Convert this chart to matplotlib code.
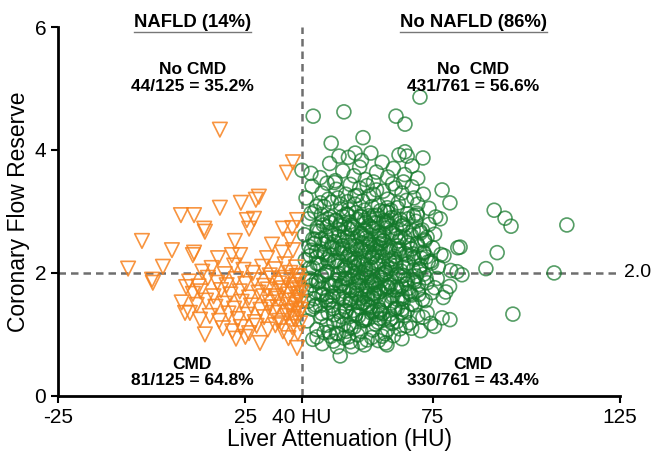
"""Coronary flow reserve vs liver attenuation scatter."""

import matplotlib

matplotlib.use("Agg")
import matplotlib.pyplot as plt
from matplotlib.lines import Line2D

plt.rcParams["font.family"] = ["Liberation Sans", "DejaVu Sans"]

# ---- NAFLD group (orange triangles) ----
nafld_sparse_x = [37.7, 36.1, 18.2, 7.8, 11.3, 14.0, -2.6, 18.2, 23.8, 27.8, 28.6, 25.4, 27.3, 26.0,
                  22.2, 5.4, 11.3, 32.1, 35.0, 37.5, 38.8, 36.9, 37.7, 17.7, 21.4, 23.6, 30.8, 34.8,
                  -6.3, 0.1, 0.3, 3.0, 11.0, 14.2, 8.9, 12.9, 14.2, 28.9, 38.8, 9.2, 10.2]
nafld_sparse_y = [3.80, 3.63, 4.33, 2.94, 2.94, 2.72, 2.52, 3.06, 3.14, 3.19, 3.24, 2.86, 2.88, 2.72,
                  2.52, 2.37, 2.33, 2.46, 2.72, 2.73, 2.86, 2.54, 2.37, 2.24, 2.29, 2.29, 2.24, 2.33,
                  2.07, 1.89, 1.84, 2.10, 2.29, 2.67, 1.35, 1.24, 1.00, 0.86, 0.78, 1.77, 1.35]
nafld_dense_x = [13.5, 16.0, 19.5, 22.0, 24.5, 27.0, 29.5, 31.5, 33.0, 35.5, 37.0, 38.5, 39.2,
                 10.0, 12.5, 15.0, 17.5, 20.0, 22.5, 25.0, 27.5, 30.0, 32.0, 34.0, 36.0, 38.0, 39.5, 35.0,
                 11.0, 13.0, 16.5, 18.5, 21.0, 23.5, 26.0, 28.5, 31.0, 33.0, 34.5, 36.5, 37.8, 39.0, 40.0,
                 8.0, 12.0, 14.5, 17.0, 19.5, 22.0, 24.0, 26.5, 29.0, 31.5, 33.5, 35.5, 37.0, 38.5, 39.7,
                 15.5, 18.0, 20.5, 23.0, 25.5, 27.5, 30.0, 32.5, 34.0, 36.0, 38.0, 39.5,
                 19.0, 21.5, 23.8, 26.0, 28.0, 31.0, 33.0, 35.0, 37.5, 39.0,
                 22.5, 25.0, 36.5, 38.7, 39.3, 38.2, 39.8, 37.3, 39.6,
                 33.8, 36.2, 38.9, 31.2, 35.7, 37.9, 29.8, 34.6]
nafld_dense_y = [2.02, 2.08, 1.98, 2.12, 2.05, 2.00, 2.10, 1.96, 2.06, 2.14, 2.00, 2.09, 1.95,
                 1.86, 1.78, 1.92, 1.84, 1.80, 1.90, 1.82, 1.88, 1.79, 1.91, 1.83, 1.88, 1.80, 1.86, 1.75,
                 1.66, 1.70, 1.62, 1.72, 1.65, 1.70, 1.60, 1.68, 1.73, 1.62, 1.70, 1.65, 1.72, 1.60, 1.68,
                 1.52, 1.48, 1.55, 1.45, 1.50, 1.42, 1.53, 1.47, 1.40, 1.52, 1.44, 1.55, 1.48, 1.42, 1.52,
                 1.30, 1.22, 1.34, 1.25, 1.32, 1.20, 1.28, 1.35, 1.22, 1.30, 1.25, 1.34,
                 1.10, 1.05, 1.12, 1.02, 1.14, 1.08, 1.15, 1.05, 1.12, 1.02,
                 0.93, 0.96, 0.94, 1.95, 1.75, 1.55, 1.40, 1.38, 1.18,
                 1.58, 1.36, 1.66, 1.44, 1.92, 1.28, 1.62, 1.18]

# ---- No NAFLD group (green circles) ----
no_nafld_x = [
    # y 3.5-4.0
    42.5, 45.0, 47.5, 49.0, 51.0, 52.5, 54.0, 55.5, 57.0, 58.5, 60.0, 61.5, 63.0, 64.5, 66.0, 67.5,
    69.5, 71.0, 50.0, 56.0,
    # y 3.0-3.5
    41.2, 42.8, 44.0, 45.5, 46.8, 48.0, 49.3, 50.5, 51.8, 53.0, 54.2, 55.5, 56.8, 58.0, 59.2, 60.5,
    61.8, 63.0, 64.3, 65.5, 66.8, 68.0, 69.5, 71.0, 72.5, 74.0, 43.5, 47.2, 52.3, 57.5, 62.2, 67.2,
    48.8, 54.8, 60.0, 65.0, 70.0, 45.0, 58.8, 63.8,
    # y 2.5-3.0
    40.8, 41.8, 43.0, 44.2, 45.3, 46.5, 47.6, 48.8, 49.9, 51.0, 52.2, 53.3, 54.5, 55.6, 56.8, 57.9,
    59.0, 60.2, 61.3, 62.5, 63.6, 64.8, 65.9, 67.0, 68.2, 69.3, 70.5, 71.6, 72.8, 74.0, 75.5, 77.0,
    42.5, 44.8, 46.9, 49.2, 51.5, 53.8, 56.1, 58.4, 60.7, 63.0, 65.3, 67.6, 69.9, 72.2, 48.0, 52.9,
    57.2, 61.9, 66.4, 50.3, 55.0, 59.6, 64.2, 54.0, 58.0, 62.0, 47.0, 43.6, 70.8, 73.5, 56.5, 60.0,
    52.0, 45.8, 67.8, 75.8, 62.8, 50.8,
    # y 2.0-2.5
    41.0, 42.0, 43.1, 44.0, 45.0, 45.9, 46.8, 47.7, 48.6, 49.5, 50.4, 51.3, 52.2, 53.1, 54.0, 54.9,
    55.8, 56.7, 57.6, 58.5, 59.4, 60.3, 61.2, 62.1, 63.0, 63.9, 64.8, 65.7, 66.6, 67.5, 68.4, 69.3,
    70.2, 71.4, 72.6, 73.8, 75.0, 76.5, 78.0, 79.8, 42.6, 44.5, 46.3, 48.1, 49.9, 51.7, 53.5, 55.3,
    57.1, 58.9, 60.7, 62.5, 64.3, 66.1, 67.9, 69.7, 71.5, 73.3, 47.2, 50.8, 54.4, 58.0, 61.6, 65.2,
    68.8, 52.6, 56.2, 59.8, 63.4, 55.0, 57.0, 60.0, 53.0, 49.0, 62.8, 66.0, 44.0, 70.8, 74.5, 77.2,
    81.5, 51.0, 56.5, 59.0, 61.0, 64.0, 46.0, 72.0, 54.0, 58.2,
    # y 1.5-2.0
    41.3, 42.3, 43.4, 44.4, 45.4, 46.3, 47.2, 48.2, 49.1, 50.0, 50.9, 51.8, 52.7, 53.6, 54.5, 55.4,
    56.3, 57.2, 58.1, 59.0, 59.9, 60.8, 61.7, 62.6, 63.5, 64.4, 65.3, 66.2, 67.1, 68.0, 69.0, 70.0,
    71.1, 72.3, 73.5, 74.8, 76.2, 77.8, 79.5, 41.8, 43.9, 45.8, 47.7, 49.6, 51.4, 53.2, 55.0, 56.8,
    58.6, 60.4, 62.2, 64.0, 65.8, 67.6, 69.4, 71.2, 73.0, 75.5, 48.5, 52.2, 55.8, 59.5, 63.2, 66.9,
    70.6, 50.5, 54.1, 57.7, 61.3, 64.9, 53.0, 56.0, 58.8, 61.0, 46.8, 44.6, 68.6, 72.6, 78.5, 42.8,
    55.2, 57.4, 60.1, 62.9, 51.6, 65.6, 48.9, 54.7, 59.3, 67.3,
    # y 1.0-1.5
    41.5, 42.8, 44.1, 45.4, 46.7, 48.0, 49.3, 50.6, 51.9, 53.2, 54.5, 55.8, 57.1, 58.4, 59.7, 61.0,
    62.3, 63.6, 64.9, 66.2, 67.5, 68.8, 70.2, 71.8, 73.5, 75.5, 77.5, 43.5, 46.0, 48.6, 51.2, 53.8,
    56.4, 59.0, 61.6, 64.2, 66.8, 69.4, 72.4, 47.3, 50.0, 52.6, 55.2, 57.8, 60.4, 63.0, 65.6, 54.0,
    58.6, 62.0, 45.0, 49.8, 56.9, 60.9, 67.9, 71.0, 52.0, 64.0, 57.5, 74.5,
    # y 0.7-1.0
    43.0, 45.5, 47.8, 49.5, 51.3, 53.0, 55.0, 56.8, 58.7, 60.5, 62.4, 64.5, 66.8, 48.5, 52.5, 57.5,
    61.5, 55.8,
    # outliers
    43.1, 51.3, 65.2, 67.6, 71.6, 47.9, 56.4, 72.4, 77.5, 79.6, 40.1, 54.3, 67.6, 68.2, 91.4, 94.3,
    95.9, 110.8, 92.2, 89.2, 107.4, 96.4, 81.7, 82.8, 50.3, 53.5, 62.8, 44.1, 82.3, 79.6,
]
no_nafld_y = [
    3.62, 3.55, 3.78, 3.50, 3.66, 3.88, 3.58, 3.72, 3.52, 3.95, 3.64, 3.80, 3.56, 3.70, 3.92, 3.60,
    3.74, 3.54, 3.90, 3.83,
    3.22, 3.41, 3.08, 3.30, 3.46, 3.15, 3.36, 3.04, 3.28, 3.44, 3.12, 3.38, 3.02, 3.25, 3.48, 3.10,
    3.33, 3.20, 3.45, 3.06, 3.30, 3.18, 3.40, 3.12, 3.28, 3.05, 3.00, 3.20, 3.16, 3.42, 3.00, 3.48,
    3.47, 3.26, 3.35, 3.38, 3.22, 3.14, 3.08, 3.02,
    2.62, 2.88, 2.55, 2.74, 2.95, 2.60, 2.82, 2.51, 2.70, 2.92, 2.58, 2.78, 2.98, 2.64, 2.86, 2.53,
    2.72, 2.94, 2.57, 2.80, 2.66, 2.90, 2.52, 2.76, 2.96, 2.61, 2.84, 2.68, 2.54, 2.79, 2.63, 2.88,
    2.97, 2.68, 2.50, 2.85, 2.66, 2.56, 2.91, 2.75, 2.60, 2.99, 2.72, 2.58, 2.93, 2.70, 2.64, 2.83,
    2.69, 2.52, 2.87, 2.77, 2.59, 2.82, 2.65, 2.74, 2.93, 2.62, 2.88, 2.55, 2.97, 2.58, 2.68, 2.81,
    2.96, 2.78, 2.73, 2.91, 2.85, 2.54,
    2.21, 2.43, 2.08, 2.35, 2.14, 2.47, 2.02, 2.29, 2.40, 2.11, 2.33, 2.05, 2.26, 2.45, 2.17, 2.38,
    2.01, 2.24, 2.42, 2.09, 2.31, 2.19, 2.48, 2.06, 2.36, 2.13, 2.27, 2.44, 2.03, 2.32, 2.16, 2.39,
    2.22, 2.07, 2.34, 2.18, 2.41, 2.10, 2.28, 2.04, 2.37, 2.15, 2.30, 2.46, 2.20, 2.08, 2.43, 2.12,
    2.35, 2.25, 2.47, 2.01, 2.23, 2.39, 2.14, 2.31, 2.05, 2.26, 2.18, 2.40, 2.09, 2.34, 2.27, 2.12,
    2.45, 2.29, 2.49, 2.16, 2.38, 2.22, 2.06, 2.42, 2.32, 2.20, 2.11, 2.36, 2.25, 2.48, 2.19, 2.30,
    2.02, 2.44, 2.13, 2.28, 2.41, 2.07, 2.33, 2.24, 2.17, 2.46,
    1.72, 1.91, 1.58, 1.84, 1.65, 1.97, 1.52, 1.79, 1.88, 1.61, 1.83, 1.55, 1.76, 1.94, 1.67, 1.86,
    1.51, 1.74, 1.92, 1.59, 1.81, 1.69, 1.98, 1.56, 1.85, 1.63, 1.77, 1.95, 1.53, 1.82, 1.66, 1.89,
    1.72, 1.57, 1.84, 1.68, 1.91, 1.60, 1.78, 1.54, 1.87, 1.65, 1.80, 1.96, 1.70, 1.58, 1.93, 1.62,
    1.85, 1.75, 1.97, 1.51, 1.73, 1.89, 1.64, 1.81, 1.55, 1.76, 1.68, 1.90, 1.59, 1.84, 1.77, 1.62,
    1.95, 1.79, 1.99, 1.66, 1.88, 1.72, 1.56, 1.92, 1.82, 1.70, 1.61, 1.86, 1.75, 1.98, 1.69, 1.80,
    1.52, 1.94, 1.63, 1.78, 1.91, 1.57, 1.83, 1.74, 1.67, 1.96,
    1.22, 1.41, 1.08, 1.34, 1.15, 1.47, 1.02, 1.29, 1.38, 1.11, 1.33, 1.05, 1.26, 1.44, 1.17, 1.36,
    1.01, 1.24, 1.42, 1.09, 1.31, 1.19, 1.48, 1.06, 1.35, 1.13, 1.27, 1.45, 1.03, 1.32, 1.16, 1.39,
    1.22, 1.07, 1.34, 1.18, 1.41, 1.10, 1.28, 1.04, 1.37, 1.15, 1.30, 1.46, 1.20, 1.08, 1.43, 1.12,
    1.35, 1.25, 1.47, 1.01, 1.23, 1.39, 1.14, 1.31, 1.05, 1.26, 1.49, 1.18,
    0.92, 0.85, 0.97, 0.80, 0.94, 0.88, 0.99, 0.83, 0.95, 0.90, 0.86, 0.98, 0.93, 0.89, 0.96, 0.91,
    0.97, 0.87,
    4.55, 4.62, 4.55, 4.42, 4.86, 4.11, 4.20, 3.87, 3.35, 3.14, 3.67, 3.95, 3.97, 3.90, 3.02, 2.89,
    2.76, 2.78, 2.33, 2.07, 2.00, 1.33, 2.41, 1.97, 0.65, 0.80, 0.83, 0.96, 2.42, 1.24,
]
# extra points filling the crowded centre of the No NAFLD cloud
no_nafld_core_x = [
    45.6, 47.7, 50.4, 52.3, 55.0, 57.1, 59.2, 61.9, 64.0, 66.5, 68.4, 70.9, 49.1, 55.7, 62.6, 58.4,
    44.1, 46.8, 48.7, 51.4, 53.3, 56.0, 57.9, 60.6, 62.5, 65.2, 67.1, 69.8, 71.7, 52.5, 56.8, 63.9,
    43.4, 45.3, 48.0, 49.9, 52.6, 54.5, 57.2, 59.1, 61.8, 63.7, 66.4, 68.3, 71.0, 72.9, 55.8, 60.7,
    42.3, 45.0, 46.9, 49.6, 51.5, 54.2, 56.1, 58.8, 60.7, 63.4, 65.3, 68.0, 69.9, 72.6, 53.0, 60.1,
    42.2, 44.1, 46.8, 48.7, 51.4, 53.3, 56.0, 57.9, 60.6, 62.5, 65.2, 67.1, 69.8, 71.8, 74.7, 56.8,
    42.6, 45.3, 47.2, 49.9, 51.8, 54.5, 56.4, 59.1, 61.0, 63.7, 65.6, 68.3, 70.2, 73.2, 55.3, 60.2,
    43.7, 45.6, 48.3, 50.2, 52.9, 54.8, 57.5, 59.4, 62.1, 64.0, 66.7, 68.6, 71.3, 53.6, 58.7, 62.8,
    43.8, 46.5, 48.4, 51.1, 53.0, 55.7, 57.6, 60.3, 62.2, 64.9, 66.8, 69.5, 51.6, 56.8, 60.8, 47.7,
    45.2, 47.1, 49.8, 51.7, 54.4, 56.3, 59.0, 60.9, 63.6, 65.5, 68.2, 52.8, 57.8, 60.0, 48.6, 66.7,
    46.0, 49.7, 52.6, 56.3, 59.2, 62.9, 65.8, 54.2, 61.0, 50.4,
]
no_nafld_core_y = [
    2.84, 2.91, 2.80, 2.95, 2.87, 2.82, 2.93, 2.85, 2.90, 2.81, 2.88, 2.94, 2.86, 2.92, 2.83, 2.89,
    2.68, 2.75, 2.62, 2.79, 2.71, 2.64, 2.77, 2.66, 2.73, 2.61, 2.78, 2.69, 2.65, 2.72, 2.60, 2.76,
    2.48, 2.55, 2.42, 2.59, 2.51, 2.44, 2.57, 2.46, 2.53, 2.41, 2.58, 2.49, 2.45, 2.52, 2.40, 2.56,
    2.28, 2.35, 2.22, 2.39, 2.31, 2.24, 2.37, 2.26, 2.33, 2.21, 2.38, 2.29, 2.25, 2.32, 2.20, 2.36,
    2.08, 2.15, 2.02, 2.19, 2.11, 2.04, 2.17, 2.06, 2.13, 2.01, 2.18, 2.09, 2.05, 2.12, 2.16, 2.00,
    1.88, 1.95, 1.82, 1.99, 1.91, 1.84, 1.97, 1.86, 1.93, 1.81, 1.98, 1.89, 1.85, 1.92, 1.80, 1.96,
    1.68, 1.75, 1.62, 1.79, 1.71, 1.64, 1.77, 1.66, 1.73, 1.61, 1.78, 1.69, 1.65, 1.72, 1.60, 1.76,
    1.48, 1.55, 1.42, 1.59, 1.51, 1.44, 1.57, 1.46, 1.53, 1.41, 1.58, 1.49, 1.45, 1.52, 1.40, 1.56,
    1.28, 1.35, 1.22, 1.39, 1.31, 1.24, 1.37, 1.26, 1.33, 1.21, 1.38, 1.29, 1.25, 1.32, 1.20, 1.36,
    3.08, 3.22, 3.03, 3.17, 3.28, 3.06, 3.14, 3.25, 3.01, 3.12,
]

x_ticks = [-25, 25, 40, 75, 125]
x_tick_labels = ["-25", "25", "40 HU", "75", "125"]
y_ticks = [0, 2, 4, 6]
hu_cutoff = 40
cfr_cutoff = 2.0

headers = [(10.8, "NAFLD (14%)"), (85.8, "No NAFLD (86%)")]
quadrant_notes = [
    (10.8, 5.17, "No CMD\n44/125 = 35.2%"),
    (85.8, 5.17, "No  CMD\n431/761 = 56.6%"),
    (10.8, 0.38, "CMD\n81/125 = 64.8%"),
    (85.8, 0.38, "CMD\n330/761 = 43.4%"),
]

GREEN = "#13782a"
ORANGE = "#f7821e"
DASH_GREY = "#6e6e6e"

fig = plt.figure(figsize=(6.52, 4.54), dpi=100)
ax = fig.add_axes([0.089, 0.128, 0.862, 0.8125])

ax.scatter(no_nafld_x + no_nafld_core_x, no_nafld_y + no_nafld_core_y, s=100, marker="o",
           facecolors="none", edgecolors=GREEN, linewidths=1.2, alpha=0.72, zorder=2)
ax.scatter(nafld_sparse_x + nafld_dense_x, nafld_sparse_y + nafld_dense_y, s=110, marker="v",
           facecolors="none", edgecolors=ORANGE, linewidths=1.2, alpha=0.85, zorder=3)

# cut-off lines
ax.plot([hu_cutoff, hu_cutoff], [0, 6], ls=(0, (3, 2)), color=DASH_GREY, lw=1.8, zorder=1,
        clip_on=False)
ax.plot([-25, 125], [cfr_cutoff, cfr_cutoff], ls=(0, (3, 2)), color=DASH_GREY, lw=1.8, zorder=1,
        clip_on=False)
ax.text(126.0, cfr_cutoff, "2.0", fontsize=14, ha="left", va="center")

ax.set_xlim(-25, 125)
ax.set_ylim(0, 6)
ax.set_xticks(x_ticks)
ax.set_xticklabels(x_tick_labels)
ax.set_yticks(y_ticks)
ax.tick_params(labelsize=15, width=1.5, length=5, direction="out")
for side in ("top", "right"):
    ax.spines[side].set_visible(False)
for side in ("left", "bottom"):
    ax.spines[side].set_linewidth(2)
ax.set_xlabel("Liver Attenuation (HU)", fontsize=16.5, labelpad=1)
ax.set_ylabel("Coronary Flow Reserve", fontsize=16.5, labelpad=3)

header_texts = []
for hx, label in headers:
    header_texts.append(ax.text(hx, 6.07, label, fontsize=13.3, fontweight="bold",
                                ha="center", va="center", clip_on=False))
for nx, ny, label in quadrant_notes:
    ax.text(nx, ny, label, fontsize=12.5, fontweight="bold", ha="center", va="center",
            linespacing=1.15)

# underline the group headers
fig.canvas.draw()
renderer = fig.canvas.get_renderer()
inv = fig.transFigure.inverted()
for txt in header_texts:
    bb = txt.get_window_extent(renderer)
    (x0, y0), (x1, _) = inv.transform([(bb.x0, bb.y0 - 1), (bb.x1, bb.y0)])
    fig.add_artist(Line2D([x0, x1], [y0, y0], color="#777777", lw=1.0,
                          transform=fig.transFigure))

fig.savefig("out.png", dpi=100)
